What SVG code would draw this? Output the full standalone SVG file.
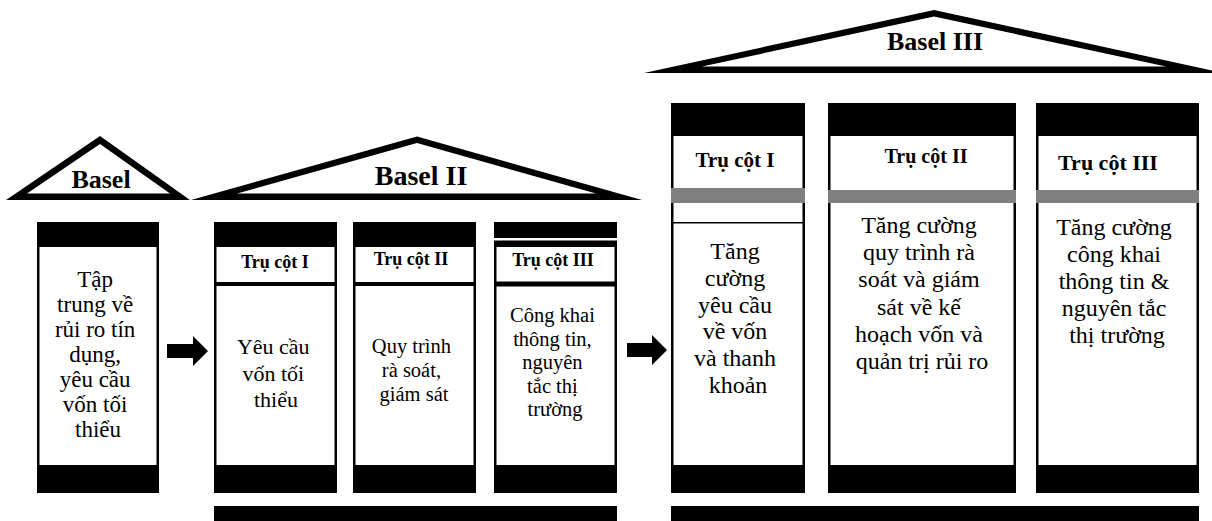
<svg xmlns="http://www.w3.org/2000/svg" width="1212" height="521" viewBox="0 0 1212 521" font-family="'Liberation Serif', 'Times New Roman', 'DejaVu Serif', serif">
  <style>
    .blk { fill: #000; }
    .wht { fill: #fff; }
    .gry { fill: #808080; }
    text { font-family: 'Liberation Serif', 'Times New Roman', 'DejaVu Serif', serif; fill: #000; text-anchor: middle; }
    .title { font-weight: bold; }
    .hdr { font-weight: bold; }
  </style>
  <rect x="0" y="0" width="1212" height="521" fill="#fff"/>

  <!-- Basel (I) -->
  <g id="basel1">
    <polygon class="blk" points="6,200 100,136 190,200"/>
    <polygon class="wht" points="27,193.5 100,144 170,193.5"/>
    <text class="title" x="101" y="188" font-size="26" font-family="Liberation Serif, serif">Basel</text>
    <rect class="blk" x="37" y="222" width="122" height="271"/>
    <rect class="wht" x="39.5" y="247" width="117" height="218"/>
    <text font-size="23">
      <tspan x="98" y="287">Tập</tspan>
      <tspan x="98" y="312">trung về</tspan>
      <tspan x="98" y="337">rủi ro tín</tspan>
      <tspan x="98" y="362">dụng,</tspan>
      <tspan x="98" y="387">yêu cầu</tspan>
      <tspan x="98" y="412">vốn tối</tspan>
      <tspan x="98" y="437">thiểu</tspan>
    </text>
  </g>

  <!-- Basel II roof -->
  <g id="basel2-roof">
    <polygon class="blk" points="191,200 417,136.5 642,200"/>
    <polygon class="wht" points="237,193.5 417,143 596,193.5"/>
    <text class="title" x="421" y="185" font-size="28">Basel II</text>
  </g>

  <!-- Basel II, pillar I -->
  <g id="basel2-p1">
    <rect class="blk" x="214" y="222" width="123" height="271"/>
    <rect class="wht" x="216.5" y="247" width="118" height="35"/>
    <rect class="wht" x="216.5" y="286" width="118" height="179"/>
    <text class="hdr" x="275" y="268" font-size="18">Trụ cột I</text>
    <text font-size="22">
      <tspan x="276" y="354">Yêu cầu</tspan>
      <tspan x="276" y="380.5">vốn tối</tspan>
      <tspan x="276" y="407">thiểu</tspan>
    </text>
  </g>

  <!-- Basel II, pillar II -->
  <g id="basel2-p2">
    <rect class="blk" x="353" y="222" width="123" height="271"/>
    <rect class="wht" x="355.5" y="247" width="118" height="35"/>
    <rect class="wht" x="355.5" y="286" width="118" height="179"/>
    <text class="hdr" x="411" y="265" font-size="18">Trụ cột II</text>
    <text font-size="20.5">
      <tspan x="414" y="353">Quy trình</tspan>
      <tspan x="414" y="377">rà soát,</tspan>
      <tspan x="414" y="401">giám sát</tspan>
    </text>
  </g>

  <!-- Basel II, pillar III -->
  <g id="basel2-p3">
    <rect class="blk" x="494" y="222" width="123" height="271"/>
    <rect class="wht" x="494" y="238" width="123" height="2.5"/>
    <rect class="wht" x="496.5" y="247" width="118" height="34.5"/>
    <rect class="wht" x="496.5" y="286.5" width="118" height="178.5"/>
    <text class="hdr" x="553" y="266" font-size="18">Trụ cột III</text>
    <text font-size="20.5">
      <tspan x="555" y="322">Công khai</tspan>
      <tspan x="555" y="345.5">thông tin,</tspan>
      <tspan x="555" y="369">nguyên</tspan>
      <tspan x="555" y="392.5">tắc thị</tspan>
      <tspan x="555" y="416">trường</tspan>
    </text>
  </g>

  <!-- Basel II base -->
  <g id="basel2-base">
    <rect class="blk" x="214" y="506" width="403" height="15"/>
  </g>

  <!-- Basel III roof -->
  <g id="basel3-roof">
    <polygon class="blk" points="644,73 934,10 1224,73"/>
    <polygon class="wht" points="702,66.5 934,16.5 1166,66.5"/>
    <text class="title" x="935" y="50" font-size="26">Basel III</text>
  </g>

  <!-- Basel III, pillar I -->
  <g id="basel3-p1">
    <rect class="blk" x="671" y="103" width="134" height="390"/>
    <rect class="wht" x="673.5" y="136" width="129" height="52"/>
    <rect class="gry" x="671" y="188" width="134" height="15"/>
    <rect class="wht" x="673.5" y="203" width="129" height="19"/>
    <rect class="wht" x="673.5" y="223.5" width="129" height="241.5"/>
    <text class="hdr" x="735" y="167" font-size="21">Trụ cột I</text>
    <text font-size="24">
      <tspan x="738" y="259">Tăng</tspan>
      <tspan x="738" y="286">cường</tspan>
      <tspan x="738" y="313">yêu cầu</tspan>
      <tspan x="738" y="339">về vốn</tspan>
      <tspan x="738" y="366">và thanh</tspan>
      <tspan x="738" y="393">khoản</tspan>
    </text>
  </g>

  <!-- Basel III, pillar II -->
  <g id="basel3-p2">
    <rect class="blk" x="828" y="103" width="188" height="390"/>
    <rect class="wht" x="830.5" y="136" width="183" height="54"/>
    <rect class="gry" x="828" y="190" width="188" height="13"/>
    <rect class="wht" x="830.5" y="203" width="183" height="262"/>
    <text class="hdr" x="926" y="163" font-size="20">Trụ cột II</text>
    <text font-size="24">
      <tspan x="922" y="233">Tăng cường</tspan>
      <tspan x="922" y="260">quy trình rà</tspan>
      <tspan x="922" y="287">soát và giám</tspan>
      <tspan x="922" y="315">sát về kế</tspan>
      <tspan x="922" y="342">hoạch vốn và</tspan>
      <tspan x="922" y="369">quản trị rủi ro</tspan>
    </text>
  </g>

  <!-- Basel III, pillar III -->
  <g id="basel3-p3">
    <rect class="blk" x="1036" y="103" width="163" height="390"/>
    <rect class="wht" x="1038.5" y="136" width="158" height="54"/>
    <rect class="gry" x="1036" y="190" width="163" height="13"/>
    <rect class="wht" x="1038.5" y="203" width="158" height="262"/>
    <text class="hdr" x="1108" y="170" font-size="22">Trụ cột III</text>
    <text font-size="24">
      <tspan x="1117" y="235">Tăng cường</tspan>
      <tspan x="1117" y="262">công khai</tspan>
      <tspan x="1117" y="289">thông tin &amp;</tspan>
      <tspan x="1117" y="316">nguyên tắc</tspan>
      <tspan x="1117" y="343">thị trường</tspan>
    </text>
  </g>

  <!-- Basel III base -->
  <g id="basel3-base">
    <rect class="blk" x="671" y="506" width="528" height="15"/>
  </g>

  <!-- block arrows between stages -->
  <g id="connectors">
    <polygon class="blk" points="167,344 193,344 193,336 208,351 193,366 193,358 167,358"/>
    <polygon class="blk" points="627,343 652,343 652,335 667,350 652,365 652,357 627,357"/>
  </g>
</svg>
